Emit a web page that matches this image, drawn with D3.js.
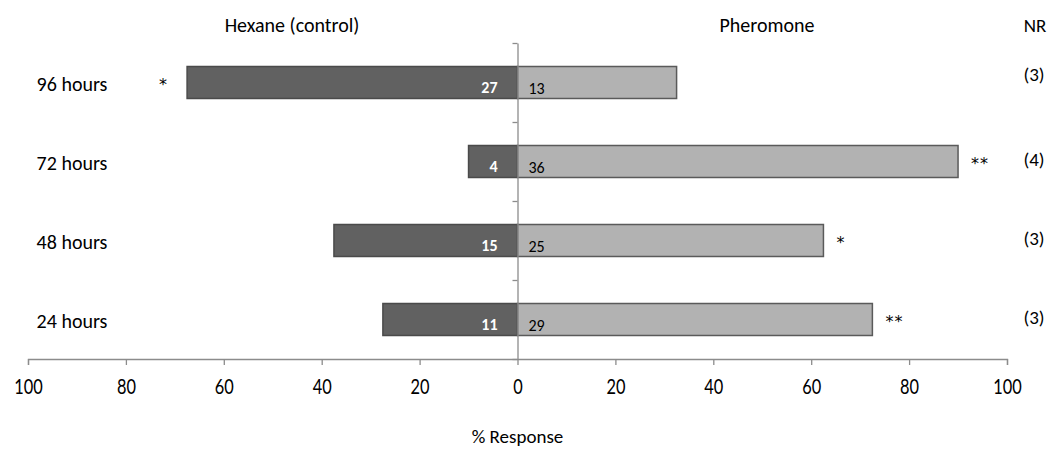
<!DOCTYPE html>
<html>
<head>
<meta charset="utf-8">
<script src="https://cdn.jsdelivr.net/npm/d3@7"></script>
<style>
    body { margin: 0; background: #fff; }
    svg text { font-family: Carlito, Lato, "Open Sans", sans-serif; fill: #000; }
    .tick-lbl { font-family: Lato, sans-serif; }
    svg text.sig { font-family: "DejaVu Sans", sans-serif; }
</style>
</head>
<body>
<div id="chart"></div>
<script>
const categories = ["96 hours", "72 hours", "48 hours", "24 hours"];
const hexanePct = [67.5, 10, 37.5, 27.5];
const pheromonePct = [32.5, 90, 62.5, 72.5];
const hexaneN = [27, 4, 15, 11];
const pheromoneN = [13, 36, 25, 29];
const hexaneSig = ["*", "", "", ""];
const pheromoneSig = ["", "**", "*", "**"];
const nrLabels = ["(3)", "(4)", "(3)", "(3)"];
const xTicks = [-100, -80, -60, -40, -20, 0, 20, 40, 60, 80, 100];

const width = 1059;
const height = 451;

const svg = d3.select('#chart')
    .append('svg')
    .attr('width', width)
    .attr('height', height);

const x = d3.scaleLinear().domain([-100, 100]).range([28, 1007]);
const y = d3.scaleBand().domain(categories).range([43, 359]).paddingInner(0.595).paddingOuter(0.2975);
const yEdge = d3.scaleLinear().domain([0, categories.length]).range([359, 43]);

// x axis
const xAxis = svg.append('g')
    .attr('transform', `translate(0,359)`)
    .call(d3.axisBottom(x).tickValues(xTicks).tickFormat(d => Math.abs(d)).tickSize(6).tickSizeOuter(6));
xAxis.selectAll('path, line').attr('stroke', '#8c8c8c').attr('stroke-width', 1.3);
xAxis.selectAll('text')
    .attr('class', 'tick-lbl')
    .attr('y', 20)
    .attr('transform', 'scale(0.78,1)')
    .style('font-size', '21px')
    .attr('fill', '#000');

// bars
svg.append('g').selectAll('rect')
    .data(categories)
    .enter().append('rect')
    .attr('x', (d, i) => x(-hexanePct[i]))
    .attr('y', d => y(d))
    .attr('width', (d, i) => x(0) - x(-hexanePct[i]))
    .attr('height', y.bandwidth())
    .attr('fill', '#616161')
    .attr('stroke', '#4a4a4a')
    .attr('stroke-width', 1.5);

svg.append('g').selectAll('rect')
    .data(categories)
    .enter().append('rect')
    .attr('x', x(0))
    .attr('y', d => y(d))
    .attr('width', (d, i) => x(pheromonePct[i]) - x(0))
    .attr('height', y.bandwidth())
    .attr('fill', '#b2b2b2')
    .attr('stroke', '#5a5a5a')
    .attr('stroke-width', 1.5);

// y axis (centre line)
const yAxis = svg.append('g')
    .attr('transform', `translate(${x(0)},0)`)
    .call(d3.axisLeft(yEdge).ticks(categories.length).tickFormat('').tickSize(5).tickSizeOuter(0));
yAxis.selectAll('path, line').attr('stroke', '#8c8c8c').attr('stroke-width', 1.3);

const mid = d => y(d) + y.bandwidth() / 2;

// count labels
svg.append('g').selectAll('text')
    .data(categories)
    .enter().append('text')
    .attr('x', x(0) - 20)
    .attr('y', d => mid(d) + 10)
    .attr('text-anchor', 'end')
    .style('font-size', '16px')
    .style('font-weight', 'bold')
    .style('fill', '#fff')
    .text((d, i) => hexaneN[i]);

svg.append('g').selectAll('text')
    .data(categories)
    .enter().append('text')
    .attr('x', x(0) + 11)
    .attr('y', d => mid(d) + 11)
    .style('font-size', '16px')
    .text((d, i) => pheromoneN[i]);

// significance marks
svg.append('g').selectAll('text')
    .data(categories)
    .enter().append('text')
    .attr('class', 'sig')
    .attr('x', (d, i) => x(-hexanePct[i]) - 24)
    .attr('y', d => mid(d) + 7)
    .attr('text-anchor', 'middle')
    .style('font-size', '16px')
    .text((d, i) => hexaneSig[i]);

svg.append('g').selectAll('text')
    .data(categories)
    .enter().append('text')
    .attr('class', 'sig')
    .attr('x', (d, i) => x(pheromonePct[i]) + 13)
    .attr('y', d => mid(d) + 7)
    .style('font-size', '16px')
    .style('letter-spacing', '1px')
    .text((d, i) => pheromoneSig[i]);

// category labels
svg.append('g').selectAll('text')
    .data(categories)
    .enter().append('text')
    .attr('x', 72)
    .attr('y', d => mid(d) + 8)
    .attr('text-anchor', 'middle')
    .style('font-size', '20px')
    .text(d => d);

// NR labels
svg.append('g').selectAll('text')
    .data(categories)
    .enter().append('text')
    .attr('x', 1034)
    .attr('y', (d, i) => mid(d) + (i === 0 ? -2 : 4))
    .attr('text-anchor', 'middle')
    .style('font-size', '19px')
    .text((d, i) => nrLabels[i]);

// headers
svg.append('text').attr('x', 292).attr('y', 32).attr('text-anchor', 'middle').style('font-size', '20px').text('Hexane (control)');
svg.append('text').attr('x', 767).attr('y', 32).attr('text-anchor', 'middle').style('font-size', '20px').text('Pheromone');
svg.append('text').attr('x', 1035).attr('y', 32).attr('text-anchor', 'middle').style('font-size', '19px').text('NR');

// axis title
svg.append('text')
    .attr('x', x(0))
    .attr('y', 443)
    .attr('text-anchor', 'middle')
    .style('font-size', '19px')
    .text('% Response');
</script>
</body>
</html>
